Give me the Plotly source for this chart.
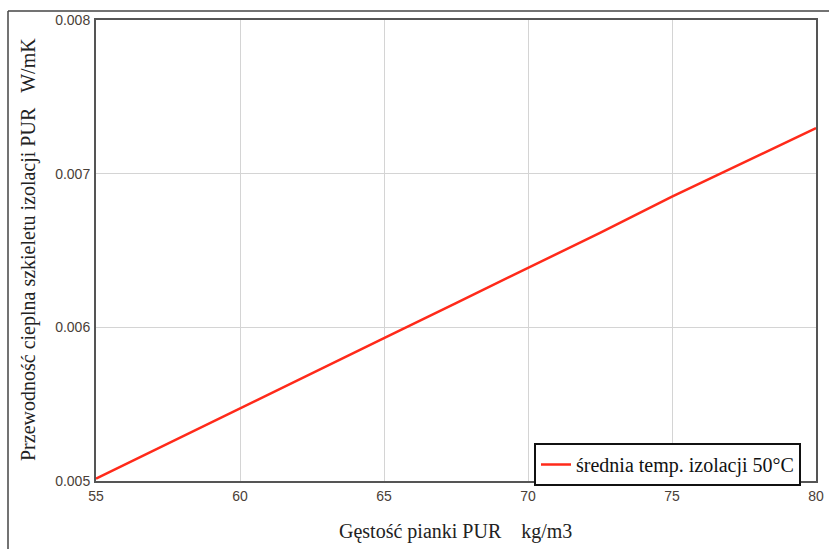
import plotly.graph_objects as go

density = [55, 57.5, 60, 62.5, 65, 67.5, 70, 72.5, 75, 77.5, 80]
conductivity = [0.005015, 0.005245, 0.005475, 0.005705, 0.005930, 0.006158, 0.006386, 0.006615, 0.006850, 0.007073, 0.007297]
series_name = "średnia temp. izolacji 50°C"
x_ticks = [55, 60, 65, 70, 75, 80]
y_ticks = [0.005, 0.006, 0.007, 0.008]

W, H = 829, 549
L, R, T, B = 96, 13, 20, 68
pw, ph = W - L - R, H - T - B

def px(xp):
    return (xp - L) / pw

def py(yp):
    return (H - B - yp) / ph

fig = go.Figure()
fig.add_trace(go.Scatter(x=density, y=conductivity, mode="lines", name=series_name,
                         line=dict(color="#ff2a1a", width=2.5)))

tickfont = dict(family="Liberation Sans Narrow, Liberation Sans, Arial", size=14, color="#4a4038")
axis_common = dict(showgrid=True, gridcolor="#d4d4d4", gridwidth=1, showline=True, linecolor="#555555",
                   linewidth=2, mirror=True, zeroline=False, tickfont=tickfont, ticks="", automargin=False)

fig.update_layout(
    width=W, height=H,
    margin=dict(l=L, r=R, t=T, b=B, pad=0, autoexpand=False),
    paper_bgcolor="white", plot_bgcolor="white",
    xaxis=dict(range=[55, 80], tickvals=x_ticks, ticktext=[str(v) for v in x_ticks],
               ticklabelstandoff=1, **axis_common),
    yaxis=dict(range=[0.005, 0.008], tickvals=y_ticks, ticktext=[f"{v:.3f}" for v in y_ticks],
               ticklabelstandoff=1, **axis_common),
    showlegend=True,
    legend=dict(x=px(534), y=py(443), xanchor="left", yanchor="top",
                bgcolor="white", bordercolor="#111111", borderwidth=2,
                font=dict(family="Liberation Serif, Times New Roman", size=20, color="#111111"),
                itemwidth=30, tracegroupgap=0),
)

fig.add_annotation(x=px(337), y=py(531), xref="paper", yref="paper", xanchor="left", yanchor="middle",
                   text="Gęstość pianki PUR &nbsp;&nbsp;&nbsp;kg/m3", showarrow=False,
                   font=dict(family="Liberation Serif, Times New Roman", size=20, color="#222222"))
fig.add_annotation(x=px(28), y=py(250), xref="paper", yref="paper", xanchor="center", yanchor="middle",
                   text="Przewodność cieplna szkieletu izolacji PUR &nbsp;&nbsp;W/mK", showarrow=False,
                   textangle=-90,
                   font=dict(family="Liberation Serif, Times New Roman", size=20, color="#222222"))

# outer frame (top and left edges visible)
fig.add_shape(type="line", xref="paper", yref="paper", x0=px(8), y0=py(11), x1=px(W + 10), y1=py(11),
              line=dict(color="#444444", width=1.5))
fig.add_shape(type="line", xref="paper", yref="paper", x0=px(8), y0=py(11), x1=px(8), y1=py(H + 10),
              line=dict(color="#444444", width=1.5))

fig.write_html("out.html")
